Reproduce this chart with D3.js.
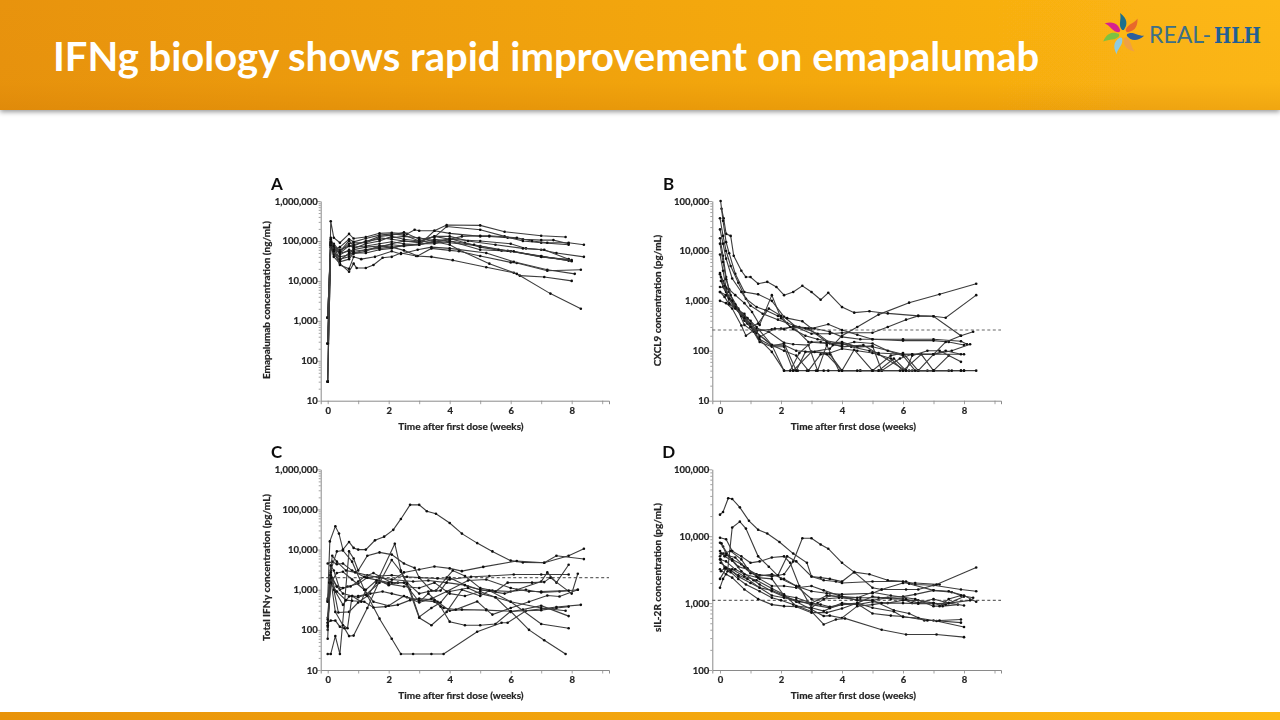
<!DOCTYPE html>
<html><head><meta charset="utf-8">
<script src="https://cdn.jsdelivr.net/npm/d3@7/dist/d3.min.js"></script>
<style>
html,body{margin:0;padding:0;background:#fff;width:1280px;height:720px;overflow:hidden}
svg{display:block}
</style></head><body>
<svg id="c" width="1280" height="720"></svg>
<script>
const titleText = "IFNg biology shows rapid improvement on emapalumab";
const xLabel = "Time after first dose (weeks)";
const weekTicks = [0,1,2,3,4,5,6,7,8,9];

const yLabelA = "Emapalumab concentration (ng/mL)";
const seriesA = [
[[0,30],[.1,310000],[.2,120000],[.4,90000],[.7,150000],[.85,115000],[1.25,125000],[1.7,155000],[2.1,160000],[2.6,150000],[2.85,190000],[3,180000],[3.5,180000],[4,155000],[5,130000],[5.3,130000],[5.9,120000],[6.4,110000],[7,105000],[7.4,105000],[7.9,85000]],
[[0,270],[.1,80000],[.2,60000],[.4,50000],[.7,55000],[.85,60000],[1.25,70000],[1.7,75000],[2.1,80000],[2.5,75000],[3,80000],[3.5,180000],[3.9,250000],[5,245000],[5.8,170000],[7,135000],[7.8,125000]],
[[0,1200],[.1,90000],[.2,70000],[.4,60000],[.7,75000],[.85,80000],[1.25,95000],[1.7,130000],[2.1,140000],[2.5,165000],[3,110000],[3.5,125000],[3.9,230000],[5,190000],[5.8,130000],[6.4,100000],[7,90000],[7.9,80000]],
[[0,1200],[.1,100000],[.2,80000],[.4,45000],[.7,60000],[.85,50000],[1.25,60000],[1.7,70000],[2.1,85000],[2.5,100000],[3,95000],[3.5,130000],[4,110000],[4.4,130000],[5,135000],[5.3,135000],[6.2,120000],[6.7,100000],[7.2,90000],[7.9,90000],[8.4,80000]],
[[0,270],[.1,75000],[.2,85000],[.4,55000],[.7,100000],[.85,75000],[1.25,100000],[1.7,110000],[2.1,120000],[2.5,130000],[3,120000],[3.5,100000],[4,110000],[5,100000],[6,85000],[6.5,65000],[7,60000],[7.5,50000],[8.4,40000]],
[[0,30],[.1,80000],[.2,50000],[.4,40000],[.7,45000],[.85,65000],[1.25,85000],[1.7,100000],[2.1,130000],[2.5,110000],[3,100000],[3.5,90000],[4,115000],[4.5,90000],[5,70000],[5.7,57000],[6,55000],[7,40000],[7.9,34000]],
[[0,1200],[.1,120000],[.2,70000],[.4,35000],[.7,40000],[.85,55000],[1.25,60000],[1.7,65000],[2.1,70000],[2.5,75000],[3,85000],[3.5,85000],[4,100000],[5,60000],[6,55000],[7,41000],[7.9,32000]],
[[0,270],[.1,110000],[.2,60000],[.4,30000],[.7,35000],[.85,50000],[1.25,50000],[1.7,60000],[2.1,65000],[2.5,80000],[3,80000],[3.5,100000],[4,90000],[5,75000],[5.9,57000],[7,42000],[8,31000]],
[[0,30],[.1,85000],[.2,40000],[.4,27000],[.7,17000],[.85,27000],[.95,21000],[1.25,21000],[1.5,25000],[1.8,38000],[2.1,40000],[2.4,50000],[2.9,42000],[3.4,40000],[4.1,33000],[5.2,22000],[6.1,16000],[6.3,13500],[7.1,12500],[8,10000]],
[[0,1200],[.1,95000],[.2,65000],[.4,50000],[.7,75000],[.85,70000],[1.25,75000],[1.7,85000],[2.1,95000],[2.5,85000],[3,80000],[3.5,95000],[4,80000],[4.3,60000],[5.3,27000],[6.2,15000],[7.3,4800],[8.3,2000]],
[[0,270],[.1,70000],[.2,45000],[.4,33000],[.7,50000],[.85,48000],[1.25,55000],[1.7,75000],[2.1,70000],[2.5,58000],[2.95,42000],[3.4,65000],[4,58000],[4.3,55000],[5,42000],[6,29000],[6.2,28000],[7.2,18000],[8.3,19000]],
[[0,1200],[.1,85000],[.2,55000],[.4,25000],[.7,20000],[.85,40000],[1.1,35000],[1.55,40000],[2.1,55000],[2.4,47000],[2.95,60000],[3.4,70000],[4,65000],[5.2,50000],[6.1,30000],[7.2,19000],[8.1,15000]],
[[0,30],[.1,90000],[.2,60000],[.4,70000],[.7,110000],[.85,95000],[1.25,115000],[1.7,140000],[2.1,150000],[2.5,140000],[3,100000],[3.5,130000],[4,130000],[4.6,100000],[5.5,80000],[6.4,65000],[7.1,60000],[7.9,35000]],
[[0,270],[.1,78000],[.2,75000],[.4,55000],[.7,85000],[.85,90000],[1.25,90000],[1.7,120000],[2.1,110000],[2.5,100000],[3,90000],[3.5,110000],[4,100000],[4.8,80000],[5.6,60000],[6.1,55000],[7,40000],[8,33000]]
];

const yLabelB = "CXCL9 concentration (pg/mL)";
const cutoffB = 260;
const seriesB = [
[[.05,70000],[.12,45000],[.2,22000],[.35,20000],[.45,8000],[.7,4000],[.85,3000],[1,3000],[1.25,2200],[1.55,2400],[1.85,1900],[2.1,1300],[2.4,1500],[2.7,2000],[3,1500],[3.3,1050],[3.55,1450],[4,750],[4.4,580],[4.9,620],[5.5,560],[6.5,500],[7,490],[7.4,460],[8.4,1300]],
[[0,3600],[.1,2500],[.3,1500],[.5,800],[.8,400],[1.2,230],[1.7,130],[2.1,130],[2.5,100],[3,95],[3.6,110],[4,200],[4.5,300],[5.2,530],[6.2,920],[7.2,1350],[8.4,2200]],
[[.02,100000],[.1,40000],[.2,15000],[.3,9000],[.5,3500],[.8,1500],[1.25,1350],[1.7,1000],[2.1,480],[2.5,300],[3,220],[3.6,220],[4,230],[5,230],[5.5,300],[6.1,420],[6.5,500],[7,490],[7.9,200]],
[[0,45000],[.1,20000],[.2,10000],[.35,5000],[.6,2300],[.85,1100],[1.2,750],[1.5,650],[1.9,500],[2.2,450],[2.7,390],[3,280],[3.55,340],[4,260],[4.5,210],[5,170],[6,170],[7,170],[7.9,155],[8.1,135]],
[[0,27000],[.1,14000],[.2,7000],[.4,2800],[.7,1500],[1,800],[1.4,550],[1.9,420],[2.2,360],[2.6,300],[3.1,280],[3.6,240],[4,190],[4.6,170],[5,170],[6,160],[7,160],[7.5,150],[8,130]],
[[0,18000],[.1,8000],[.2,3000],[.3,1700],[.5,1300],[.8,900],[1.05,600],[1.3,330],[1.7,1300],[2,450],[2.4,270],[2.8,200],[3.2,170],[4,140],[4.5,120],[5,120],[6,85],[7,85],[8,85]],
[[0,14000],[.1,6000],[.2,2700],[.35,1300],[.6,700],[.9,350],[1.2,250],[1.7,270],[2,280],[2.4,300],[2.9,150],[3.5,140],[4,150],[4.5,120],[5,125],[5.3,40],[5.9,70],[6.3,85],[7,85],[7.6,100],[8.2,135]],
[[0,8500],[.1,4000],[.2,1800],[.3,1100],[.5,800],[.8,500],[1,300],[1.25,180],[1.7,95],[2.1,40],[2.4,40],[2.55,40],[2.85,40],[3.15,40],[3.4,40],[3.55,40],[4,40],[4.6,40],[5,40],[5.3,40],[6,40],[6.3,40],[7,40],[7.5,40],[7.9,40],[8,40],[8.4,40]],
[[0,3400],[.1,1900],[.3,1100],[.5,850],[.8,330],[1.1,240],[1.3,150],[1.7,120],[2.1,120],[2.4,40],[3,95],[3.4,90],[3.6,85],[4,40],[4.6,40],[5.2,40],[5.9,40],[6.2,40],[6.8,40],[7.9,40],[8,40]],
[[0,1900],[.2,1800],[.3,900],[.6,650],[.8,550],[1.1,250],[1.3,170],[1.7,125],[2.1,140],[2.5,40],[2.8,95],[3.1,95],[3.6,90],[4,110],[4.5,100],[5,90],[5.6,70],[6,40],[6.6,85],[7,40],[7.5,80]],
[[0,1000],[.2,900],[.4,700],[.7,320],[.85,200],[1.2,280],[1.6,240],[2.1,145],[2.4,135],[2.9,130],[3.2,40],[3.5,130],[3.9,40],[4.5,40],[5,40],[5.6,80],[6,90],[6.5,40],[7,40],[7.6,40]],
[[0,1500],[.15,1200],[.3,850],[.6,650],[.9,450],[1.2,300],[1.7,130],[2.1,100],[2.5,80],[2.9,40],[3.3,85],[3.5,85],[4,40],[4.4,105],[5,40],[5.2,40],[5.7,70],[6.1,40],[6.3,80],[6.8,100],[7.2,100],[7.9,60]],
[[.03,2500],[.2,1500],[.4,1000],[.7,500],[1,350],[1.2,230],[1.7,130],[2.1,40],[2.3,40],[2.6,90],[3,150],[3.3,150],[3.6,140],[4,140],[4.3,120],[4.9,100],[5.2,90],[6,85],[6.3,85],[7,85],[7.4,100],[7.9,85]],
[[0,1500],[.2,1300],[.5,750],[.7,500],[1,400],[1.3,190],[1.8,280],[2.1,270],[2.4,310],[2.9,280],[3.5,150],[4,120],[4.7,130],[5.2,85],[6.1,40],[6.5,40],[7,85],[7.4,150],[7.9,200],[8.3,240]],
[[.03,3000],[.15,2000],[.3,1100],[.5,700],[.8,450],[1,300],[1.25,350],[1.6,700],[2,500],[2.3,300],[2.8,280],[3.2,220],[3.7,130],[4,130],[4.4,150],[5,140],[5.5,100],[6,80],[6.4,40],[7,40]]
];

const yLabelC = "Total IFNγ concentration (pg/mL)";
const cutoffC = 2000;
const seriesC = [
[[0,600],[.07,16000],[.25,38000],[.37,25000],[.5,10000],[.7,15500],[.85,11000],[1,10000],[1.25,10000],[1.55,17000],[1.85,21000],[2.15,31000],[2.4,58000],[2.7,130000],[3,130000],[3.25,90000],[3.55,78000],[4,46000],[4.4,25000],[4.9,14500],[5.4,9000],[6,5300],[6.4,4800],[7.1,4700],[7.5,7000],[8.4,5800]],
[[0,4500],[.15,5000],[.3,4300],[.5,4500],[.8,3000],[1.25,2000],[2,1500],[2.5,2700],[3,3200],[3.5,3800],[4,3400],[4.4,2900],[5.1,3700],[6.2,5200],[7.1,4700],[7.9,7000],[8.4,10500]],
[[0,500],[.1,3000],[.3,9000],[.5,9500],[.8,5000],[1.2,1000],[1.7,190],[2.1,60],[2.4,25],[2.8,25],[3.4,25],[3.8,25],[4.9,90],[5.7,150],[5.9,150],[6.5,300],[7.5,370],[8.3,420]],
[[0,25],[.1,25],[.25,70],[.4,25],[.7,9000],[.85,6000],[1,3000],[1.3,7000],[1.7,8500],[2.1,7500],[2.5,4500],[2.85,3500],[3,2000],[3.4,950],[3.55,950],[3.9,2000],[4.1,3000],[4.5,2200],[5,1100],[5.4,950],[6,900],[6.5,1000],[7,850],[7.6,900],[8.2,1000]],
[[0,150],[.1,170],[.25,170],[.4,120],[.55,110],[.7,70],[.85,72],[1.3,350],[1.7,1700],[2,1300],[2.3,1500],[2.6,1500],[3,800],[3.3,900],[3.7,950],[4,2000],[4.6,1200],[5,1000],[5.8,800],[6.2,1000],[7,1600],[7.2,2700],[7.5,1500],[7.9,4200]],
[[0,100],[.05,1500],[.15,7000],[.3,5000],[.6,3000],[.9,2700],[1.3,2300],[1.7,2000],[2.1,1800],[2.8,1600],[3.3,1700],[3.9,1500],[4.5,1300],[5,1000],[5.5,900],[5.9,1500],[6.7,1500],[7.1,1550],[7.3,2000],[8,800],[8.2,2500]],
[[0,60],[.1,4000],[.2,3000],[.4,1000],[.65,1200],[1,1400],[1.3,2000],[1.7,2200],[2.1,2300],[2.6,2100],[3,2000],[3.6,1900],[4,1800],[4.7,2100],[5.3,2200],[6.1,2400],[7,2400],[7.9,2400]],
[[0,200],[.1,2400],[.3,1200],[.5,1100],[.75,1200],[1,1600],[1.2,2100],[1.5,2600],[2.1,1500],[2.5,1500],[3,500],[3.3,800],[3.6,500],[4,300],[4.4,320],[5.2,310],[6,290],[7,310],[7.5,350],[7.9,380]],
[[0,120],[.1,2700],[.25,900],[.5,420],[.7,680],[1,700],[1.4,800],[1.8,900],[2.1,800],[2.6,650],[3,550],[3.5,500],[3.8,350],[4.2,320],[4.9,510],[5.2,320],[5.4,240],[6,350],[6.6,500],[7.2,720],[7.6,680],[8.2,1000]],
[[0,550],[.1,2300],[.2,1000],[.35,270],[.7,280],[1,480],[1.3,700],[1.6,1500],[2.2,14000],[2.4,3000],[2.7,1000],[3,210],[3.4,350],[3.7,480],[4,900],[4.6,1100],[5,800],[5.5,650],[6,280],[6.4,320],[7,400],[7.9,220]],
[[0,130],[.1,1800],[.25,280],[.5,130],[.65,110],[.8,700],[1,650],[1.25,750],[1.7,1500],[2.1,5500],[2.4,2800],[2.6,1400],[3,200],[3.4,130],[3.9,280],[4.4,1000],[5,700],[5.3,950],[6,500],[7,140],[7.9,110]],
[[0,150],[.1,1400],[.3,900],[.6,550],[.8,530],[1.2,500],[1.5,360],[1.9,380],[2.3,420],[2.7,550],[3,600],[3.5,550],[3.7,380],[4,160],[4.5,130],[5,130],[5.5,140],[6,290],[6.6,100],[7.1,55],[7.8,25]],
[[0,500],[.12,2000],[.3,1200],[.5,800],[.8,700],[1.1,500],[1.25,1000],[1.6,1700],[2,1400],[2.5,1200],[3,1100],[3.5,1500],[4,800],[4.5,700],[5,900],[5.5,650],[6,500],[7,350],[7.8,300]],
[[0,180],[.1,1500],[.3,2600],[.5,2800],[.8,1800],[1.2,1000],[1.5,500],[2,400],[2.5,700],[3,480],[3.4,600],[3.9,900],[4.6,1700],[5.2,1800],[6,1100],[6.6,900],[7,900],[7.9,950]]
];

const yLabelD = "sIL-2R concentration (pg/mL)";
const cutoffD = 1100;
const seriesD = [
[[0,21000],[.1,23000],[.27,37000],[.4,36000],[.65,27000],[.95,17000],[1.25,12500],[1.55,11000],[1.95,8200],[2.4,5500],[2.85,4000],[3,2500],[3.3,2400],[3.6,2300],[4,2100],[4.4,2900],[4.9,2700],[5.5,2200],[6.1,2100],[6.4,1900],[7,1850],[7.9,1600],[8.4,1500]],
[[0,1700],[.1,2300],[.25,3000],[.4,13500],[.65,16500],[.85,13000],[1.25,5000],[1.6,3500],[2,2300],[2.5,1800],[3,1500],[3.5,1400],[4,1350],[5,1400],[5.3,1600],[6,2000],[6.4,2000],[7.2,1900]],
[[0,9500],[.2,9000],[.4,6000],[.7,5000],[1,4000],[1.3,4200],[1.7,4800],[2.1,5000],[2.3,4000],[2.6,1800],[3,850],[3.2,1000],[3.6,1300],[4,1200],[4.6,1100],[5,1100],[5.5,1200],[6,1150],[6.3,1000],[7,1000],[7.3,900],[7.8,950]],
[[0,8000],[.1,7000],[.3,5000],[.6,3500],[.9,3200],[1.2,2700],[1.7,2500],[2.1,2700],[2.4,4200],[2.7,9300],[3,9300],[3.3,7500],[3.55,6500],[4,4000],[4.4,2900],[5,1700],[5.3,1600],[6.1,1600],[6.5,1600],[7.1,1900],[8.4,3400]],
[[.05,7800],[.2,5500],[.4,4500],[.7,3800],[1,2800],[1.3,2600],[1.9,2600],[2.2,5000],[2.5,4200],[3,2500],[3.4,2200],[3.8,2100],[4,2000],[5,2100],[6,2100],[6.2,1950],[7,1550],[7.6,1450],[7.9,1300],[8.3,1200]],
[[0,6000],[.15,5000],[.4,4300],[.7,3000],[1.1,2200],[1.3,1900],[1.7,1500],[2.1,1250],[2.5,1100],[3,950],[3.6,850],[4,1000],[4.5,950],[5,1050],[5.5,1000],[6,1100],[6.5,1100],[7,1000],[7.4,950],[8,1250]],
[[0,5000],[.1,5500],[.35,6000],[.7,4500],[.9,3300],[1.3,2300],[1.7,1800],[2.1,1800],[2.5,1700],[3,1800],[3.4,1550],[3.9,1300],[4.5,1100],[5,1100],[5.7,780],[6.2,700],[6.7,550],[7,550],[7.9,510]],
[[0,4500],[.15,3500],[.3,3200],[.6,2600],[.9,2300],[1.3,1700],[1.7,1550],[2.1,1300],[2.5,1050],[3,800],[3.4,640],[3.6,650],[4,600],[4.5,900],[5,950],[5.3,1000],[6,1000],[6.5,980],[7,980],[7.5,1000],[8.2,1100]],
[[.02,4000],[.2,3400],[.35,2900],[.6,2300],[.85,1900],[1.3,1500],[1.7,1200],[2,1100],[2.4,950],[3,750],[3.4,480],[3.8,570],[4.1,590],[5.3,400],[6.1,340],[7.1,340],[8,310]],
[[0,3200],[.2,2700],[.4,2400],[.8,1600],[1.25,1150],[1.7,950],[2.1,900],[2.5,880],[3,720],[3.5,720],[4,830],[4.5,1000],[5,850],[5.7,750],[6,620],[6.5,600],[7.1,540],[8,440]],
[[.03,3000],[.15,3300],[.35,3100],[.6,2500],[1,2000],[1.3,1700],[1.7,1300],[2.1,1200],[2.6,1050],[3,1000],[3.3,950],[3.6,880],[4,950],[4.5,1000],[5,1250],[5.6,1150],[6.1,1150],[6.5,1000],[7,1150],[7.5,1000],[8,920]],
[[0,2300],[.2,3300],[.4,3200],[.8,2500],[1.2,2200],[1.7,1650],[2.1,1350],[2.5,900],[3,850],[3.4,760],[3.6,840],[4,950],[4.5,980],[5,700],[5.6,650],[6,630],[6.8,550],[7.2,550],[7.9,570]],
[[.02,4500],[.2,4200],[.5,3200],[.8,2700],[1.25,2400],[1.7,2300],[2.1,1300],[2.5,1200],[3,1000],[3.5,1300],[4,1250],[4.6,1200],[5.2,1200],[6,1250],[6.4,1350],[7,1550],[7.5,1500],[8,1300],[8.4,1050]],
[[.02,5500],[.2,5200],[.5,4800],[.8,3500],[1.2,2500],[1.7,2700],[2.1,2300],[2.5,1800],[3,1150],[3.4,1150],[3.9,1200],[4.5,1200],[5,1450],[5.6,1300],[6.4,1150],[7,900],[7.2,900],[7.5,1150],[7.9,1300]]
];

const panelDefs = [
 {id:"A", series:seriesA, yLabel:yLabelA, dom:[10,1e6], x0:320.7, top:201, bot:400.7, zero:327.7, eight:571.7, right:609, cut:null, labelX:277, labelY:189.5, yLabX:270, yMid:300},
 {id:"B", series:seriesB, yLabel:yLabelB, dom:[10,1e5], x0:712.3, top:201, bot:400.7, zero:720, eight:964, right:1001, cut:cutoffB, labelX:668.7, labelY:189.5, yLabX:661, yMid:300.5},
 {id:"C", series:seriesC, yLabel:yLabelC, dom:[10,1e6], x0:320.7, top:469.3, bot:670, zero:327.7, eight:571.7, right:609, cut:cutoffC, labelX:276.7, labelY:457.5, yLabX:270, yMid:567.5},
 {id:"D", series:seriesD, yLabel:yLabelD, dom:[100,1e5], x0:712.3, top:469.3, bot:670, zero:720, eight:964, right:1001, cut:cutoffD, labelX:668.7, labelY:457.5, yLabX:661, yMid:567.5}
];

const svg = d3.select("#c");
const defs = svg.append("defs");
const g1 = defs.append("linearGradient").attr("id","hdr");
g1.append("stop").attr("offset","0").attr("stop-color","#e8930a");
g1.append("stop").attr("offset","1").attr("stop-color","#fdb813");
const g2 = defs.append("linearGradient").attr("id","hdrV").attr("x2",0).attr("y2",1);
g2.append("stop").attr("offset","0").attr("stop-color","#c87000").attr("stop-opacity",0);
g2.append("stop").attr("offset",".75").attr("stop-color","#c87000").attr("stop-opacity",.04);
g2.append("stop").attr("offset","1").attr("stop-color","#c87000").attr("stop-opacity",.25);
const sh = defs.append("filter").attr("id","shadow").attr("x","-5%").attr("y","-20%").attr("width","110%").attr("height","150%");
sh.append("feDropShadow").attr("dx",0).attr("dy",2).attr("stdDeviation",2.5).attr("flood-color","#000").attr("flood-opacity",.4);
const soft = defs.append("filter").attr("id","soft");
soft.append("feGaussianBlur").attr("stdDeviation",.45);

svg.append("rect").attr("width",1280).attr("height",110).attr("fill","url(#hdr)").attr("filter","url(#shadow)");
svg.append("rect").attr("width",1280).attr("height",110).attr("fill","url(#hdrV)");
svg.append("rect").attr("y",712).attr("width",1280).attr("height",8).attr("fill","url(#hdr)");
svg.append("text").attr("x",53).attr("y",71).attr("fill","#fff")
  .style("font","700 40px Lato, 'Open Sans', sans-serif").text(titleText);

// logo
const logo = svg.append("g").attr("transform","translate(1123,34)").attr("filter","url(#soft)");
const petalColors = ["#1d6f8c","#e8692c","#2a5f9e","#f0a043","#8ecae0","#7cc242","#d6218f"];
logo.selectAll("path").data(petalColors).join("path")
  .attr("d","M0,-3 C5,-9 5,-15 -3,-21 C-1,-14 -6,-9 0,-3Z")
  .attr("transform",(d,i)=>`rotate(${i*360/7})`).attr("fill",d=>d);
logo.append("circle").attr("r",4).attr("fill","#fdb813");
svg.append("text").attr("x",1149).attr("y",43).attr("fill","#3d6f87")
  .style("font","400 23px Lato, sans-serif").text("REAL-");
svg.append("text").attr("x",1214).attr("y",43).attr("fill","#1f5f95")
  .attr("textLength",47).attr("lengthAdjust","spacingAndGlyphs")
  .style("font","700 22px 'DejaVu Serif', serif").text("HLH");

const textCol = "#222", axisCol = "#8a8a8a", lineCol = "#3c3c3c";
const tickFmt = d3.format(",");
const heavy = sel => sel.attr("fill",textCol).attr("stroke",textCol).attr("stroke-width",.2);

panelDefs.forEach(p=>{
  const g = svg.append("g").attr("filter","url(#soft)");
  const wk = (p.eight-p.zero)/8;
  const x = d3.scaleLinear().domain([(p.x0-p.zero)/wk,(p.right-p.zero)/wk]).range([p.x0,p.right]);
  const y = d3.scaleLog().domain(p.dom).range([p.bot,p.top]);

  const yTicks = y.ticks();
  const isMajor = v => Math.abs(Math.log10(v)-Math.round(Math.log10(v)))<1e-9;
  const yAxis = g.append("g").attr("transform",`translate(${p.x0},0)`)
    .call(d3.axisLeft(y).tickValues(yTicks).tickFormat(v=>isMajor(v)?tickFmt(v):"").tickSize(0).tickPadding(3));
  yAxis.selectAll("line").attr("x2",v=>isMajor(v)?-3.5:-2).attr("stroke",axisCol).attr("stroke-width",.8);
  const xAxis = g.append("g").attr("transform",`translate(0,${p.bot})`)
    .call(d3.axisBottom(x).tickValues(weekTicks).tickFormat(v=>v%2===0?v:"").tickSize(3.5).tickPadding(3));
  xAxis.selectAll("line").attr("stroke",axisCol).attr("stroke-width",.8);
  [yAxis,xAxis].forEach(a=>{
    a.select(".domain").attr("stroke",axisCol).attr("stroke-width",1);
    a.selectAll("text").call(heavy).style("font","700 9.5px Lato, 'Open Sans', sans-serif");
  });

  if(p.cut!==null){
    g.append("line").attr("x1",p.x0).attr("x2",p.right).attr("y1",y(p.cut)).attr("y2",y(p.cut))
      .attr("stroke","#666").attr("stroke-width",1.1).attr("stroke-dasharray","3,2.5");
  }
  const line = d3.line().x(d=>x(d[0])).y(d=>y(d[1]));
  const s = g.append("g").selectAll("g").data(p.series).join("g");
  s.append("path").attr("d",line).attr("fill","none").attr("stroke",lineCol).attr("stroke-width",1.1);
  s.selectAll("circle").data(d=>d).join("circle")
    .attr("cx",d=>x(d[0])).attr("cy",d=>y(d[1])).attr("r",1.3).attr("fill","#111");

  g.append("text").attr("x",p.zero+133.3).attr("y",p.bot+29).attr("text-anchor","middle")
    .call(heavy).style("font","700 10px Lato, 'Open Sans', sans-serif").text(xLabel);
  g.append("text").attr("transform",`translate(${p.yLabX},${p.yMid}) rotate(-90)`).attr("text-anchor","middle")
    .call(heavy).style("font","700 10px Lato, 'Open Sans', sans-serif").text(p.yLabel);
  g.append("text").attr("x",p.labelX).attr("y",p.labelY).attr("text-anchor","middle")
    .attr("fill","#111").style("font","700 17px Lato, 'Open Sans', sans-serif").text(p.id);
});
</script>
</body></html>
